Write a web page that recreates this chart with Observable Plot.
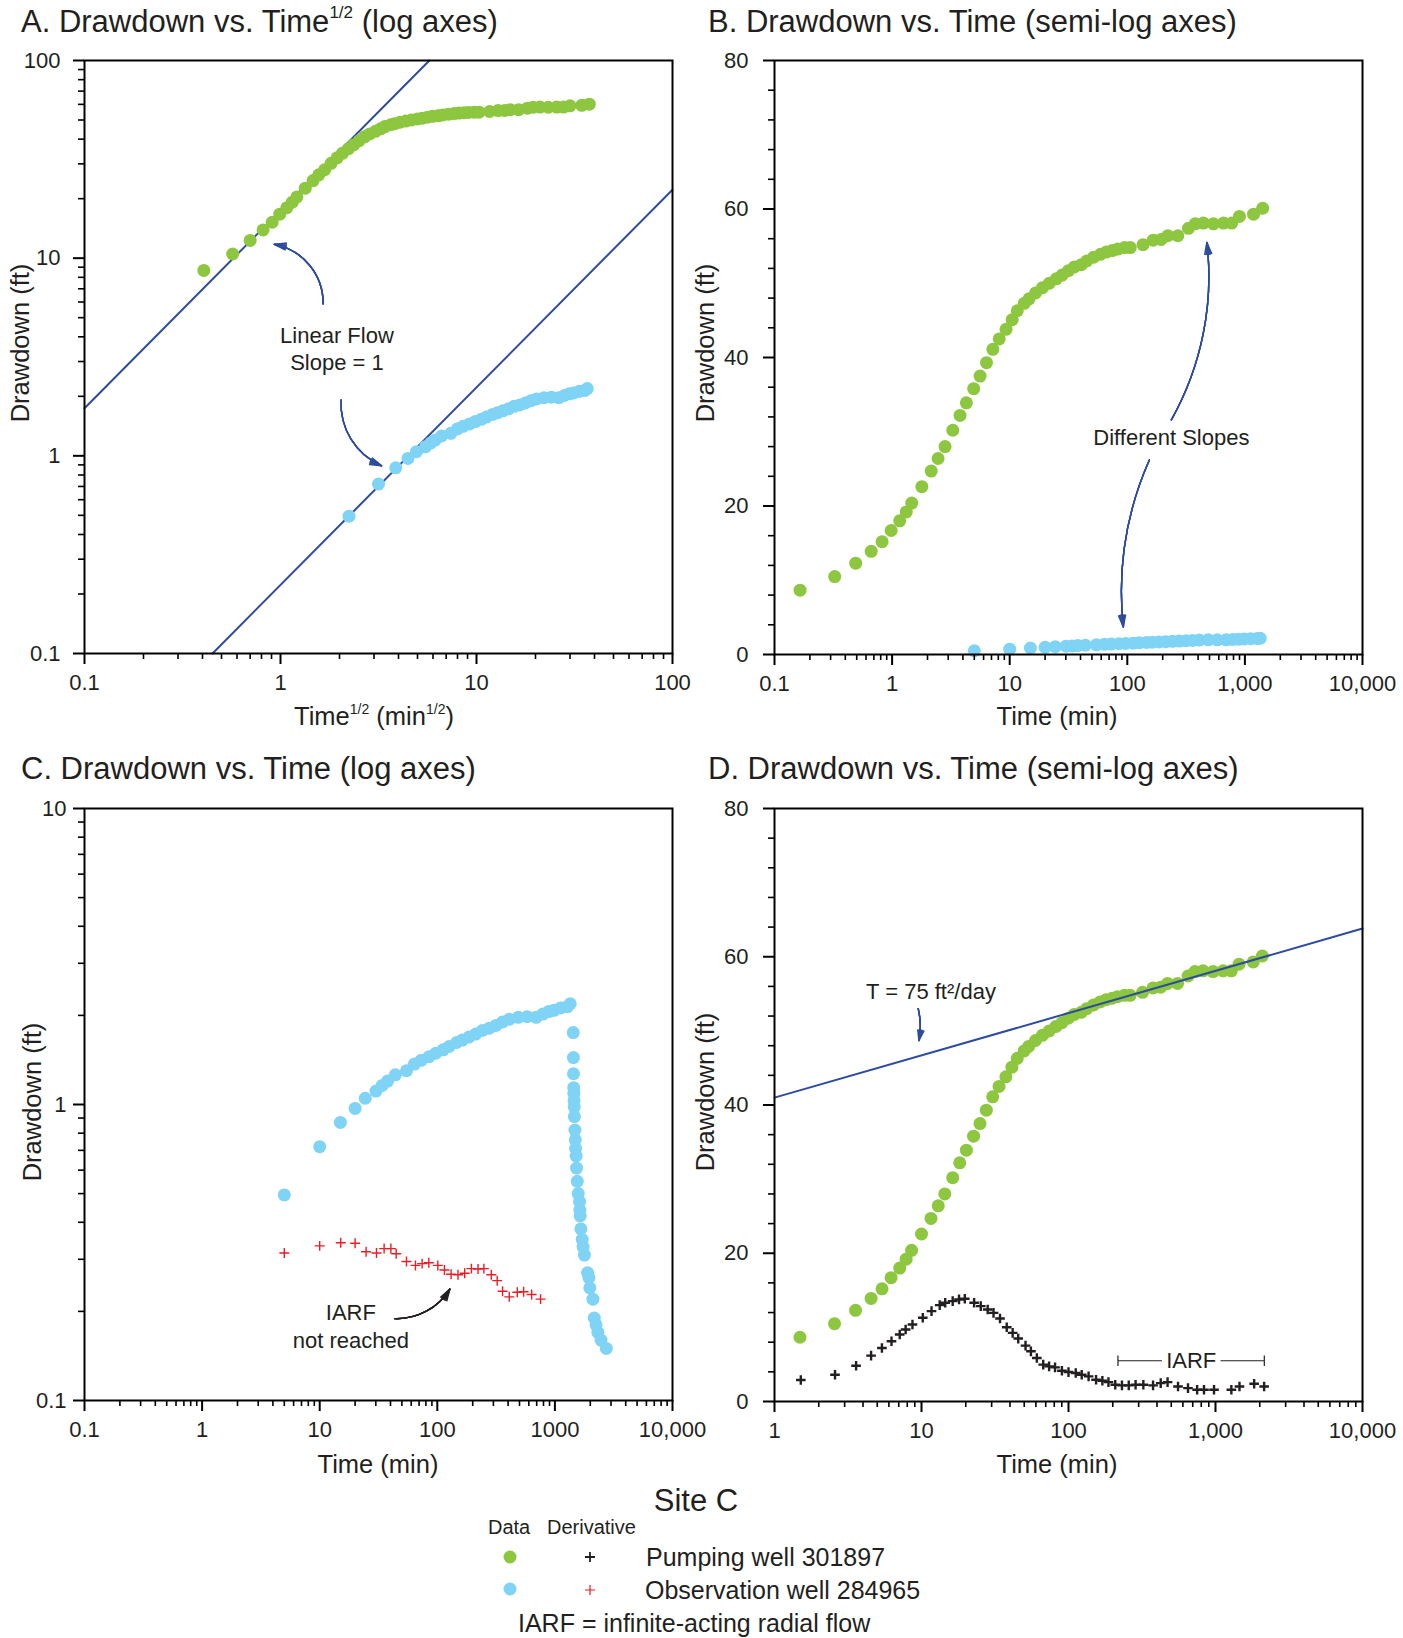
<!DOCTYPE html>
<html><head><meta charset="utf-8">
<script src="https://cdn.jsdelivr.net/npm/d3@7"></script>
<script src="https://cdn.jsdelivr.net/npm/@observablehq/plot@0.6"></script>
<style>
body{margin:0;background:#fff;}
#root{position:relative;width:1403px;height:1638px;font-family:Arial,"Liberation Sans",Helvetica,sans-serif;color:#231f20;overflow:hidden;}
.abs{position:absolute;white-space:nowrap;line-height:1;}
.title{font-size:31px;}
.axlab{font-size:25.5px;transform:translate(-50%,-50%);}
.axlab.rot{transform:translate(-50%,-50%) rotate(-90deg);}
sup{font-size:0.55em;vertical-align:0.8em;line-height:0;}
svg{overflow:visible;}
</style></head><body><div id="root"></div>
<script>
// ---------------- DATA ----------------
// Pumping well 301897: time (min) and drawdown (ft), as plotted in panels A and B
const pumpTime = [0.165,0.325,0.49,0.664,0.822,0.982,1.16,1.32,1.47,1.79,2.15,2.46,2.82,3.28,3.78,4.28,4.94,5.6,6.35,7.19,8.14,9.31,10.5,11.6,13.3,14.6,16.6,19.0,21.7,24.9,27.9,31.6,35.5,40.6,45.2,51.7,59.1,66.3,74.5,82.9,94.8,106,136,166,194,221,269,331,378,444,540,658,772,899,1185,1416];
const pumpDrawdown = [8.67,10.5,12.3,13.9,15.2,16.7,18.0,19.2,20.4,22.6,24.7,26.4,28.0,30.2,32.2,33.9,35.8,37.5,39.3,41.1,42.5,43.8,45.1,46.3,47.3,47.9,48.7,49.4,50.0,50.6,51.1,51.7,52.2,52.5,53.0,53.5,53.9,54.2,54.4,54.6,54.8,54.8,55.2,55.8,55.9,56.4,56.4,57.4,58.0,58.1,58.0,58.1,58.1,59.0,59.3,60.1];
// Pumping well time as read on panel D's time axis
const pumpTimeD = [1.49,2.56,3.56,4.54,5.39,6.21,7.11,7.86,8.56,10.0,11.6,13.0,14.4,16.3,18.2,20.2,22.6,25.0,27.6,30.5,33.7,37.5,41.2,44.8,49.9,53.6,59.6,66.4,73.9,82.2,90.2,99.7,109,122,133,148,164,180,198,215,240,263,319,376,424,472,552,651,724,823,963,1127,1281,1446,1805,2082];
// Pumping well derivative (panel D)
const pumpDerivTime = [1.51,2.58,3.59,4.54,5.38,6.25,7.11,7.80,8.68,10.2,11.7,13.3,14.5,16.3,18.0,19.7,22.8,25.3,28.2,30.9,34.2,38.0,41.7,45.5,51.0,55.5,60.9,67.3,73.8,81.0,90.2,100,112,123,137,154,170,187,208,231,257,286,323,376,424,472,556,650,750,835,977,1282,1456,1832,2142];
const pumpDeriv = [2.9,3.6,4.83,6.19,7.22,8.13,9.03,9.71,10.38,11.29,12.19,13.0,13.32,13.54,13.77,13.86,13.32,12.87,12.42,11.96,11.2,10.02,9.26,8.49,7.54,6.77,5.87,4.97,4.74,4.60,4.15,3.97,3.84,3.61,3.39,2.93,2.80,2.62,2.26,2.17,2.17,2.26,2.26,2.17,2.48,2.62,2.03,1.81,1.58,1.58,1.58,1.58,2.03,2.39,2.03];
// Observation well 284965: pumping period
const obsTime = [5,10,15,20,24.4,30.1,34,37.8,44,54.7,64,73,85,97,112,126,146,163,186,212,242,276,315,359,409,488,581,692,789,885,982,1120,1277,1350];
const obsDrawdown = [0.495,0.72,0.87,0.97,1.05,1.11,1.16,1.20,1.26,1.30,1.37,1.41,1.45,1.49,1.53,1.57,1.62,1.65,1.69,1.73,1.78,1.81,1.85,1.90,1.94,1.97,1.98,1.97,2.02,2.06,2.08,2.12,2.14,2.19];
// Observation well: recovery (panel C)
const obsRecTime = [1432,1436,1440,1445,1450,1455,1460,1465,1480,1490,1500,1515,1528,1550,1578,1620,1630,1640,1663,1707,1737,1783,1897,1947,1982,2106,2161,2240,2319,2466,2735];
const obsRecDrawdown = [1.75,1.44,1.27,1.14,1.09,1.03,0.98,0.91,0.82,0.76,0.71,0.67,0.61,0.55,0.50,0.47,0.44,0.42,0.38,0.35,0.33,0.31,0.27,0.26,0.24,0.22,0.19,0.18,0.17,0.16,0.15];
// Observation well derivative (panel C)
const obsDerivTime = [5.0,10,15.1,20,24.8,30.4,35.3,40.3,44.7,54.7,65.2,74.3,84.7,101,115,131,150,171,195,222,249,288,323,359,409,479,542,634,755];
const obsDeriv = [0.315,0.333,0.341,0.340,0.318,0.315,0.326,0.326,0.313,0.295,0.286,0.290,0.292,0.286,0.276,0.267,0.266,0.269,0.279,0.278,0.279,0.266,0.254,0.234,0.224,0.232,0.233,0.228,0.220];
// Fitted lines
const slopeLine1X = [0.1, 5.75], slopeLine1Y = [1.74, 100];   // panel A, pumping well
const slopeLine2X = [0.45, 100], slopeLine2Y = [0.1, 22.2];   // panel A, observation well
const jacobLineX = [1, 10000], jacobLineY = [41.0, 63.8];     // panel D, T = 75 ft2/day
// Tick values and labels
const ticksA = [0.1, 1, 10, 100], ticksALabels = ["0.1", "1", "10", "100"];
const ticksTimeB = [0.1, 1, 10, 100, 1000, 10000], ticksTimeBLabels = ["0.1", "1", "10", "100", "1,000", "10,000"];
const ticksTimeC = [0.1, 1, 10, 100, 1000, 10000], ticksTimeCLabels = ["0.1", "1", "10", "100", "1000", "10,000"];
const ticksTimeD = [1, 10, 100, 1000, 10000], ticksTimeDLabels = ["1", "10", "100", "1,000", "10,000"];
const ticksDrawC = [0.1, 1, 10], ticksDrawCLabels = ["0.1", "1", "10"];
const ticksDrawLin = [0, 20, 40, 60, 80], ticksDrawLinLabels = ["0", "20", "40", "60", "80"];

// ---------------- STYLE ----------------
const GREEN = "#8dc63f", BLUE = "#7fd3f5", LINE = "#2d4c9e", RED = "#ed1c24", INK = "#231f20";

const pump = pumpTime.map((t, i) => ({t, d: pumpDrawdown[i]}));
const pumpD = pumpTimeD.map((t, i) => ({t, d: pumpDrawdown[i]}));
const pumpDer = pumpDerivTime.map((t, i) => ({t, d: pumpDeriv[i]}));
const obs = obsTime.map((t, i) => ({t, d: obsDrawdown[i]}));
const obsRec = obsRecTime.map((t, i) => ({t, d: obsRecDrawdown[i]}));
const obsDer = obsDerivTime.map((t, i) => ({t, d: obsDeriv[i]}));
const zipXY = (xs, ys) => xs.map((x, i) => ({x, y: ys[i]}));

function logMinors(majors) {
  const out = [];
  for (let i = 0; i < majors.length - 1; i++) for (let k = 2; k <= 9; k++) out.push(+(majors[i] * k).toPrecision(6));
  return out;
}
const linMinors = d3.range(0, 81, 4).filter(v => v % 20 !== 0);
const fmt = (vals, labels) => v => { const i = vals.findIndex(u => (u === 0 && v === 0) || Math.abs(u - v) / Math.max(Math.abs(u), 1e-9) < 1e-6); return i >= 0 ? labels[i] : ""; };

const root = document.getElementById("root");

function panel(cfg) {
  const {x0, y0, w, h, left, top, right, bottom} = cfg;
  const chart = Plot.plot({
    width: w, height: h,
    marginLeft: left - x0, marginRight: x0 + w - right, marginTop: top - y0, marginBottom: y0 + h - bottom,
    x: {...cfg.x, axis: null}, y: {...cfg.y, axis: null},
    style: {fontFamily: "Arial, 'Liberation Sans', Helvetica, sans-serif", fontSize: "22px", color: INK, background: "transparent", overflow: "visible"},
    marks: [
      ...cfg.marks,
      Plot.frame({stroke: "#000", strokeWidth: 2}),
      Plot.axisX(cfg.xMinor, {anchor: "bottom", tickSize: 6, strokeWidth: 1.6, stroke: "#000", tickFormat: () => "", label: null}),
      Plot.axisX(cfg.xMajor, {anchor: "bottom", tickSize: 11, tickPadding: 10, strokeWidth: 2, stroke: "#000", fill: INK, tickFormat: cfg.xFmt, label: null}),
      Plot.axisY(cfg.yMinor, {anchor: "left", tickSize: 6, strokeWidth: 1.6, stroke: "#000", tickFormat: () => "", label: null}),
      Plot.axisY(cfg.yMajor, {anchor: "left", tickSize: 11, tickPadding: cfg.yPad, strokeWidth: 2, stroke: "#000", fill: INK, tickFormat: cfg.yFmt, label: null})
    ]
  });
  chart.style.position = "absolute";
  chart.style.left = x0 + "px";
  chart.style.top = y0 + "px";
  root.appendChild(chart);
}

const dotOpts = (fill) => ({r: 6.5, fill, stroke: "none"});
const note = (x, y, text, extra = {}) => Plot.text([{x, y, text}], {x: "x", y: "y", text: "text", fontSize: 22, fill: INK, ...extra});
// arrow with a near-filled head (several nested head angles)
const arrow = (x1, y1, x2, y2, bend, stroke = LINE) => [34, 24, 14, 6].map(a =>
  Plot.arrow([{x1, y1, x2, y2}], {x1: "x1", y1: "y1", x2: "x2", y2: "y2", bend, stroke, strokeWidth: 1.4, headLength: 13, headAngle: a, inset: 0}));

// Panel A
panel({
  x0: 0, y0: 0, w: 700, h: 700, left: 84, top: 60, right: 672, bottom: 653,
  x: {type: "log", domain: [0.1, 100]}, y: {type: "log", domain: [0.1, 100]},
  xMajor: ticksA, xMinor: logMinors(ticksA), xFmt: fmt(ticksA, ticksALabels),
  yMajor: ticksA, yMinor: logMinors(ticksA), yFmt: fmt(ticksA, ticksALabels), yPad: 13,
  marks: [
    Plot.line(zipXY(slopeLine1X, slopeLine1Y), {x: "x", y: "y", stroke: LINE, strokeWidth: 2}),
    Plot.line(zipXY(slopeLine2X, slopeLine2Y), {x: "x", y: "y", stroke: LINE, strokeWidth: 2}),
    Plot.dot(pump, {x: d => Math.sqrt(d.t), y: "d", ...dotOpts(GREEN)}),
    Plot.dot(obs, {x: d => Math.sqrt(d.t), y: "d", ...dotOpts(BLUE)}),
    note(1.94, 4.03, "Linear Flow"),
    note(1.94, 2.94, "Slope = 1"),
    ...arrow(1.65, 5.87, 0.93, 11.75, -40),
    ...arrow(2.04, 1.92, 3.28, 0.89, -35)
  ]
});

// Panel B
panel({
  x0: 700, y0: 0, w: 703, h: 700, left: 774, top: 60, right: 1362, bottom: 654,
  x: {type: "log", domain: [0.1, 10000]}, y: {type: "linear", domain: [0, 80]},
  xMajor: ticksTimeB, xMinor: logMinors(ticksTimeB), xFmt: fmt(ticksTimeB, ticksTimeBLabels),
  yMajor: ticksDrawLin, yMinor: linMinors, yFmt: fmt(ticksDrawLin, ticksDrawLinLabels), yPad: 15,
  marks: [
    Plot.dot(pump, {x: "t", y: "d", ...dotOpts(GREEN)}),
    Plot.dot(obs, {x: "t", y: "d", ...dotOpts(BLUE)}),
    note(237, 29.1, "Different Slopes"),
    ...arrow(237, 31.6, 475, 55.5, -18),
    ...arrow(154, 26.2, 92.5, 3.7, -15)
  ]
});

// Panel C
panel({
  x0: 0, y0: 748, w: 700, h: 740, left: 84, top: 808, right: 672, bottom: 1400,
  x: {type: "log", domain: [0.1, 10000]}, y: {type: "log", domain: [0.1, 10]},
  xMajor: ticksTimeC, xMinor: logMinors(ticksTimeC), xFmt: fmt(ticksTimeC, ticksTimeCLabels),
  yMajor: ticksDrawC, yMinor: logMinors(ticksDrawC), yFmt: fmt(ticksDrawC, ticksDrawCLabels), yPad: 7,
  marks: [
    Plot.dot(obs, {x: "t", y: "d", ...dotOpts(BLUE)}),
    Plot.dot(obsRec, {x: "t", y: "d", ...dotOpts(BLUE)}),
    Plot.dot(obsDer, {x: "t", y: "d", symbol: "plus", r: 3.3, stroke: RED, strokeWidth: 1.4}),
    note(18.4, 0.197, "IARF"),
    note(18.4, 0.159, "not reached"),
    ...arrow(43.5, 0.189, 128, 0.238, -30, INK)
  ]
});

// Panel D
panel({
  x0: 700, y0: 748, w: 703, h: 740, left: 774, top: 808, right: 1362, bottom: 1401,
  x: {type: "log", domain: [1, 10000]}, y: {type: "linear", domain: [0, 80]},
  xMajor: ticksTimeD, xMinor: logMinors(ticksTimeD), xFmt: fmt(ticksTimeD, ticksTimeDLabels),
  yMajor: ticksDrawLin, yMinor: linMinors, yFmt: fmt(ticksDrawLin, ticksDrawLinLabels), yPad: 15,
  marks: [
    Plot.dot(pumpD, {x: "t", y: "d", ...dotOpts(GREEN)}),
    Plot.line(zipXY(jacobLineX, jacobLineY), {x: "x", y: "y", stroke: LINE, strokeWidth: 2}),
    Plot.dot(pumpDer, {x: "t", y: "d", symbol: "plus", r: 3.2, stroke: INK, strokeWidth: 2.4}),
    note(11.6, 55.2, "T = 75 ft²/day"),
    ...arrow(9.5, 53.0, 9.6, 48.7, 12),
    Plot.link([{x1: 217, x2: 432, y: 5.5}, {x1: 1081, x2: 2148, y: 5.5}], {x1: "x1", x2: "x2", y1: "y", y2: "y", stroke: INK, strokeWidth: 1.2}),
    Plot.link([{x: 217}, {x: 2148}], {x1: "x", x2: "x", y1: () => 4.8, y2: () => 6.2, stroke: INK, strokeWidth: 1.2}),
    note(684, 5.5, "IARF")
  ]
});

// ---------------- TEXT: titles, axis labels, legend ----------------
function addText(html, cls, style) {
  const el = document.createElement("div");
  el.className = "abs " + cls;
  el.innerHTML = html;
  Object.assign(el.style, style);
  root.appendChild(el);
  return el;
}
addText("A. Drawdown vs. Time<sup>1/2</sup> (log axes)", "title", {left: "21px", top: "6px"});
addText("B. Drawdown vs. Time (semi-log axes)", "title", {left: "708px", top: "6px"});
addText("C. Drawdown vs. Time (log axes)", "title", {left: "21px", top: "753px"});
addText("D. Drawdown vs. Time (semi-log axes)", "title", {left: "708px", top: "753px"});

addText("Time<sup>1/2</sup> (min<sup>1/2</sup>)", "axlab", {left: "374px", top: "717px"});
addText("Time (min)", "axlab", {left: "1057px", top: "717px"});
addText("Time (min)", "axlab", {left: "378px", top: "1465px"});
addText("Time (min)", "axlab", {left: "1057px", top: "1465px"});
addText("Drawdown (ft)", "axlab rot", {left: "21px", top: "343px"});
addText("Drawdown (ft)", "axlab rot", {left: "706px", top: "343px"});
addText("Drawdown (ft)", "axlab rot", {left: "33px", top: "1102px"});
addText("Drawdown (ft)", "axlab rot", {left: "706px", top: "1092px"});

// Legend
addText("Site C", "", {left: "696px", top: "1500px", fontSize: "31px", transform: "translate(-50%,-50%)"});
addText("Data", "", {left: "488px", top: "1527px", fontSize: "20px", transform: "translateY(-50%)"});
addText("Derivative", "", {left: "547px", top: "1527px", fontSize: "20px", transform: "translateY(-50%)"});
addText("Pumping well 301897", "", {left: "646px", top: "1557px", fontSize: "25px", transform: "translateY(-50%)"});
addText("Observation well 284965", "", {left: "645px", top: "1590px", fontSize: "25px", transform: "translateY(-50%)"});
addText("IARF = infinite-acting radial flow", "", {left: "518px", top: "1623px", fontSize: "25px", transform: "translateY(-50%)"});
const leg = d3.select(root).append("svg").attr("width", 1403).attr("height", 1638)
  .style("position", "absolute").style("left", 0).style("top", 0).style("pointer-events", "none");
leg.append("circle").attr("cx", 510).attr("cy", 1557).attr("r", 6.5).attr("fill", GREEN);
leg.append("circle").attr("cx", 510).attr("cy", 1589).attr("r", 6.5).attr("fill", BLUE);
const plus = (cx, cy, c, sw) => leg.append("path").attr("d", `M${cx-5},${cy}H${cx+5}M${cx},${cy-5}V${cy+5}`).attr("stroke", c).attr("stroke-width", sw);
plus(590, 1557, INK, 1.8);
plus(590, 1590, RED, 1.2);
</script>
</body></html>
